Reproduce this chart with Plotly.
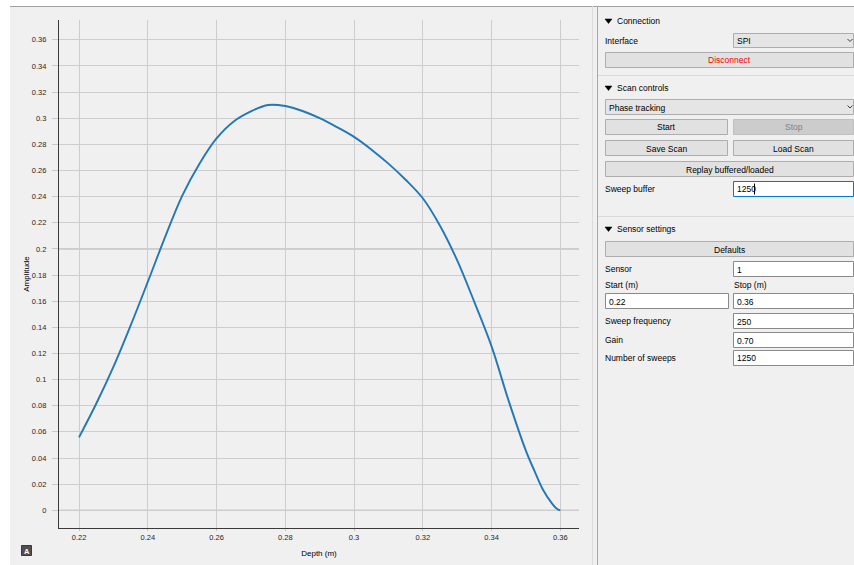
import plotly.graph_objects as go

# ---------------- chart data ----------------
depth_m = [0.2200, 0.2250, 0.2300, 0.2350, 0.2400, 0.2450, 0.2500, 0.2550,
           0.2600, 0.2650, 0.2700, 0.2750, 0.2800, 0.2850, 0.2900,
           0.2950, 0.3000, 0.3050, 0.3100, 0.3150, 0.3200, 0.3250, 0.3300,
           0.3350, 0.3400, 0.3450, 0.3500, 0.3525, 0.3550, 0.3575, 0.3590,
           0.3600]
amplitude = [0.0558, 0.0815, 0.1097, 0.1413, 0.1747, 0.2088, 0.2406, 0.2650,
             0.2845, 0.2975, 0.3052, 0.3101, 0.3093, 0.3055, 0.3000,
             0.2932, 0.2857, 0.2761, 0.2652, 0.2529, 0.2387, 0.2177, 0.1912,
             0.1593, 0.1254, 0.0835, 0.0455, 0.0300, 0.0155, 0.0055, 0.0012,
             0.0000]

x_tick_vals = [0.22, 0.24, 0.26, 0.28, 0.30, 0.32, 0.34, 0.36]
x_tick_text = ["0.22", "0.24", "0.26", "0.28", "0.3", "0.32", "0.34", "0.36"]
y_tick_vals = [0.00, 0.02, 0.04, 0.06, 0.08, 0.10, 0.12, 0.14, 0.16, 0.18,
               0.20, 0.22, 0.24, 0.26, 0.28, 0.30, 0.32, 0.34, 0.36]
y_tick_text = ["0", "0.02", "0.04", "0.06", "0.08", "0.1", "0.12", "0.14",
               "0.16", "0.18", "0.2", "0.22", "0.24", "0.26", "0.28", "0.3",
               "0.32", "0.34", "0.36"]
reference_levels = [0.0, 0.2]

x_range = [0.21418, 0.36543]
y_range = [-0.01354, 0.37510]

FONT = "Liberation Sans"

# ---------------- figure geometry ----------------
W, H = 854, 565
L, R, T, B = 59, 579, 20, 528   # plot area in pixels


def X(p):
    return (p - L) / (R - L)


def Y(p):
    return (B - p) / (B - T)


shapes = []
annos = []


def rect(x0, y0, x1, y1, fill, line=None, lw=1):
    shapes.append(dict(type="rect", xref="paper", yref="paper",
                       x0=X(x0), x1=X(x1), y0=Y(y1), y1=Y(y0),
                       fillcolor=fill,
                       line=dict(color=line if line else fill, width=lw if line else 0),
                       layer="above"))


def hline(x0, x1, y, color, lw=1):
    shapes.append(dict(type="line", xref="paper", yref="paper",
                       x0=X(x0), x1=X(x1), y0=Y(y), y1=Y(y),
                       line=dict(color=color, width=lw), layer="above"))


def vline(x, y0, y1, color, lw=1):
    shapes.append(dict(type="line", xref="paper", yref="paper",
                       x0=X(x), x1=X(x), y0=Y(y0), y1=Y(y1),
                       line=dict(color=color, width=lw), layer="above"))


def path(pts, fill=None, color="#000000", lw=1, closed=False):
    d = "M " + " L ".join(f"{X(a):.5f},{Y(b):.5f}" for a, b in pts)
    if closed:
        d += " Z"
    shapes.append(dict(type="path", xref="paper", yref="paper", path=d,
                       fillcolor=fill if fill else "rgba(0,0,0,0)",
                       line=dict(color=color, width=lw), layer="above"))


def text(x, y, s, anchor="left", color="#000000", size=8.5, bold=False):
    if bold:
        s = f"<b>{s}</b>"
    annos.append(dict(xref="paper", yref="paper", x=X(x), y=Y(y), text=s,
                      showarrow=False, xanchor=anchor, yanchor="middle",
                      borderpad=0,
                      font=dict(family=FONT, size=size, color=color)))


def button(x0, y0, x1, y1, label, color="#000000", fill="#e1e1e1", border="#adadad"):
    rect(x0, y0, x1, y1, fill, border)
    text((x0 + x1) / 2, (y0 + y1) / 2 + 0.5, label, anchor="center", color=color)


def entry(x0, y0, x1, y1, value, border="#8a8a8a"):
    rect(x0, y0, x1, y1, "#ffffff", border)
    text(x0 + 2, (y0 + y1) / 2 + 0.5, value)


def combo(x0, y0, x1, y1, value):
    rect(x0, y0, x1, y1, "#e5e5e5", "#adadad")
    text(x0 + 2, (y0 + y1) / 2 + 0.5, value)
    cy = (y0 + y1) / 2
    path([(x1 - 6, cy - 1.5), (x1 - 3.5, cy + 1), (x1 - 1, cy - 1.5)], color="#404040", lw=1)


def header(y, label):
    path([(605, y - 2), (612, y - 2), (608.5, y + 2.5)], fill="#000000", color="#000000", lw=0.5, closed=True)
    text(616, y, label)


# window frame
rect(0, 0, W, 6, "#ffffff")
rect(0, 0, 10, H, "#ffffff")
hline(10, W, 6.5, "#a0a0a0")
vline(592.5, 6, H, "#dcdcdc")
vline(597.5, 6, H, "#a8a8a8")

# "A" auto-range button
rect(21.5, 545.5, 31.5, 555.5, "#505050", "#3a3a3a")
text(26.5, 551, "A", anchor="center", color="#ffffff", size=7.5, bold=True)

# -------- side panel --------
header(21, "Connection")
text(604, 41, "Interface")
combo(733.5, 33.5, 853.5, 47.5, "SPI")
button(605.5, 52.5, 853.5, 67.5, "Disconnect", color="#ff0000")
hline(598, W, 75.5, "#d9d9d9")

header(88, "Scan controls")
combo(605.5, 99.5, 853.5, 114.5, "Phase tracking")
button(605.5, 119.5, 727.5, 134.5, "Start")
button(733.5, 119.5, 853.5, 134.5, "Stop", color="#838383", fill="#cccccc", border="#bfbfbf")
button(605.5, 140.5, 727.5, 155.5, "Save Scan")
button(733.5, 140.5, 853.5, 155.5, "Load Scan")
button(605.5, 161.5, 853.5, 176.5, "Replay buffered/loaded")
text(604, 189, "Sweep buffer")
entry(733.5, 181.5, 853.5, 196.5, "1250", border="#0078d7")
vline(754.5, 183.5, 194.5, "#000000")
hline(598, W, 216.5, "#d9d9d9")

header(229, "Sensor settings")
button(605.5, 241.5, 853.5, 256.5, "Defaults")
text(604, 269, "Sensor")
entry(733.5, 261.5, 853.5, 276.5, "1")
text(604, 285, "Start (m)")
text(733, 285, "Stop (m)")
entry(605.5, 293.5, 728.5, 308.5, "0.22")
entry(733.5, 293.5, 853.5, 308.5, "0.36")
text(604, 321, "Sweep frequency")
entry(733.5, 313.5, 853.5, 328.5, "250")
text(604, 340, "Gain")
entry(733.5, 332.5, 853.5, 347.5, "0.70")
text(604, 358, "Number of sweeps")
entry(733.5, 350.5, 853.5, 365.5, "1250")

# darker reference lines inside the plot
for lvl in reference_levels:
    shapes.append(dict(type="line", xref="paper", yref="y", x0=0, x1=1,
                       y0=lvl, y1=lvl, line=dict(color="#9c9c9c", width=1),
                       layer="below"))

fig = go.Figure(go.Scatter(
    x=depth_m, y=amplitude, mode="lines",
    line=dict(color="#2277b6", width=1.9, shape="spline", smoothing=1.0),
    hoverinfo="skip", showlegend=False))

axis_common = dict(showgrid=True, gridcolor="#cdcdcd", gridwidth=1,
                   zeroline=False, showline=True, linecolor="#3a3a3a",
                   linewidth=1.2, ticks="outside", tickcolor="#c8c8c8",
                   automargin=False,
                   tickfont=dict(family=FONT, size=7.5, color="#262626"))

fig.update_layout(
    width=W, height=H, autosize=False,
    margin=dict(l=L, r=W - R, t=T, b=H - B, pad=0, autoexpand=False),
    paper_bgcolor="#f0f0f0", plot_bgcolor="#f0f0f0",
    font=dict(family=FONT, size=8.5, color="#000000"),
    xaxis=dict(range=x_range, tickmode="array", tickvals=x_tick_vals,
               ticktext=x_tick_text, ticklen=2, ticklabelstandoff=0,
               title=dict(text="Depth (m)", standoff=9,
                          font=dict(family=FONT, size=8, color="#000000")),
               **axis_common),
    yaxis=dict(range=y_range, tickmode="array", tickvals=y_tick_vals,
               ticktext=y_tick_text, ticklen=6, ticklabelstandoff=4,
               title=dict(text="Amplitude", standoff=0,
                          font=dict(family=FONT, size=8, color="#000000")),
               **axis_common),
    shapes=shapes, annotations=annos,
    hovermode=False,
)

fig.write_html("out.html", config={"displayModeBar": False, "responsive": False},
               post_script="document.body.style.margin='0px';document.body.style.overflow='hidden';")
